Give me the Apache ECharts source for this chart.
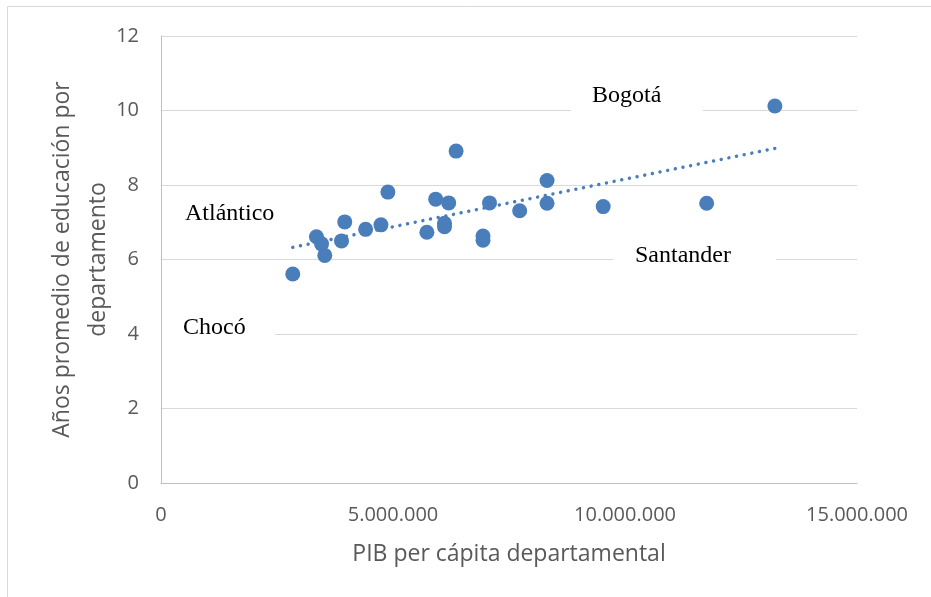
<!DOCTYPE html>
<html>
<head>
<meta charset="utf-8">
<script src="https://cdn.jsdelivr.net/npm/echarts@6/dist/echarts.min.js"></script>
<style>
  html, body { margin: 0; padding: 0; background: #ffffff; }
  #chart { width: 931px; height: 597px; }
</style>
</head>
<body>
<div id="chart"></div>
<script>
// PIB per cápita departamental (pesos) y años promedio de educación
const pibPerCapita = [2840000, 3350000, 3460000, 3530000, 3890000, 3960000, 4410000, 4740000,
  4890000, 5730000, 5920000, 6110000, 6110000, 6200000, 6360000, 6940000, 6940000, 7080000,
  7730000, 8320000, 8320000, 9530000, 11760000, 13230000];
const aniosEducacion = [5.61, 6.61, 6.42, 6.11, 6.50, 7.01, 6.81, 6.93,
  7.81, 6.73, 7.62, 6.97, 6.88, 7.52, 8.91, 6.63, 6.52, 7.52,
  7.31, 8.12, 7.51, 7.42, 7.51, 10.12];

const xTicks = [0, 5000000, 10000000, 15000000];
const yTicks = [0, 2, 4, 6, 8, 10, 12];

const tituloX = 'PIB per cápita departamental';
const tituloY = 'Años promedio de educación por\ndepartamento';
const etiquetas = ['Bogotá', 'Atlántico', 'Santander', 'Chocó'];

// Tendencia lineal por mínimos cuadrados
function regresion(xs, ys) {
  const n = xs.length;
  const mx = xs.reduce((a, b) => a + b, 0) / n;
  const my = ys.reduce((a, b) => a + b, 0) / n;
  let sxy = 0, sxx = 0;
  for (let i = 0; i < n; i++) {
    sxy += (xs[i] - mx) * (ys[i] - my);
    sxx += (xs[i] - mx) * (xs[i] - mx);
  }
  const m = sxy / sxx;
  return { m: m, b: my - m * mx };
}
const fit = regresion(pibPerCapita, aniosEducacion);
const xMin = Math.min.apply(null, pibPerCapita);
const xMax = Math.max.apply(null, pibPerCapita);
const tendencia = [[xMin, fit.m * xMin + fit.b], [xMax, fit.m * xMax + fit.b]];

const puntos = pibPerCapita.map((x, i) => [x, aniosEducacion[i]]);

function miles(v) {
  return String(Math.round(v)).replace(/\B(?=(\d{3})+(?!\d))/g, '.');
}

const azul = '#4A7EBB';
const gris = '#595959';
const sans = '"Open Sans", "Noto Sans", sans-serif';
const serif = '"Liberation Serif", "DejaVu Serif", serif';

// Cuadros de texto de los departamentos (fondo blanco sobre la cuadrícula)
const cajas = [
  { box: [571, 78, 132, 36], txt: [592, 84] },
  { box: [163, 195, 130, 36], txt: [185, 202] },
  { box: [613, 240, 163, 34], txt: [635, 244] },
  { box: [162, 312, 113, 30], txt: [183, 315.5] }
];

const graficos = [
  {
    type: 'rect', silent: true, z: -10,
    shape: { x: 7.5, y: 6.5, width: 1200, height: 1200 },
    style: { fill: 'none', stroke: '#d9d9d9', lineWidth: 1 }
  }
];
cajas.forEach((c, i) => {
  graficos.push({
    type: 'rect', silent: true, z: 50,
    shape: { x: c.box[0], y: c.box[1], width: c.box[2], height: c.box[3] },
    style: { fill: '#ffffff' }
  });
  graficos.push({
    type: 'text', silent: true, z: 51,
    x: c.txt[0], y: c.txt[1],
    style: {
      text: etiquetas[i], fill: '#000000',
      font: '24px ' + serif, align: 'left', verticalAlign: 'top'
    }
  });
});

const chart = echarts.init(document.getElementById('chart'), null, { renderer: 'canvas' });
chart.setOption({
  animation: false,
  backgroundColor: '#ffffff',
  grid: { left: 161, right: 74, top: 36, bottom: 114, containLabel: false },
  xAxis: {
    type: 'value',
    min: xTicks[0], max: xTicks[xTicks.length - 1], interval: xTicks[1] - xTicks[0],
    name: tituloX, nameLocation: 'middle', nameGap: 60, nameMoveOverlap: false,
    nameTextStyle: { fontFamily: sans, fontSize: 23, color: gris },
    axisLine: { show: true, lineStyle: { color: '#bfbfbf', width: 1 } },
    axisTick: { show: false },
    axisLabel: { fontFamily: sans, fontSize: 20, color: gris, margin: 22, formatter: miles },
    splitLine: { show: false }
  },
  yAxis: {
    type: 'value',
    min: yTicks[0], max: yTicks[yTicks.length - 1], interval: yTicks[1] - yTicks[0],
    name: tituloY, nameLocation: 'middle', nameGap: 45, nameRotate: 90, nameMoveOverlap: false,
    nameTextStyle: { fontFamily: sans, fontSize: 23, color: gris, lineHeight: 36, align: 'center' },
    axisLine: { show: true, lineStyle: { color: '#bfbfbf', width: 1 } },
    axisTick: { show: false },
    axisLabel: { fontFamily: sans, fontSize: 20, color: gris, margin: 22 },
    splitLine: { show: true, lineStyle: { color: '#d9d9d9', width: 1 } }
  },
  series: [
    {
      type: 'scatter',
      data: puntos,
      symbol: 'circle',
      symbolSize: 15,
      itemStyle: { color: azul, opacity: 1 },
      z: 3
    },
    {
      type: 'line',
      data: tendencia,
      showSymbol: false,
      symbol: 'none',
      silent: true,
      lineStyle: { color: azul, width: 3.5, type: [0.01, 7.8], cap: 'round' },
      z: 4
    }
  ],
  graphic: graficos
});
</script>
</body>
</html>
